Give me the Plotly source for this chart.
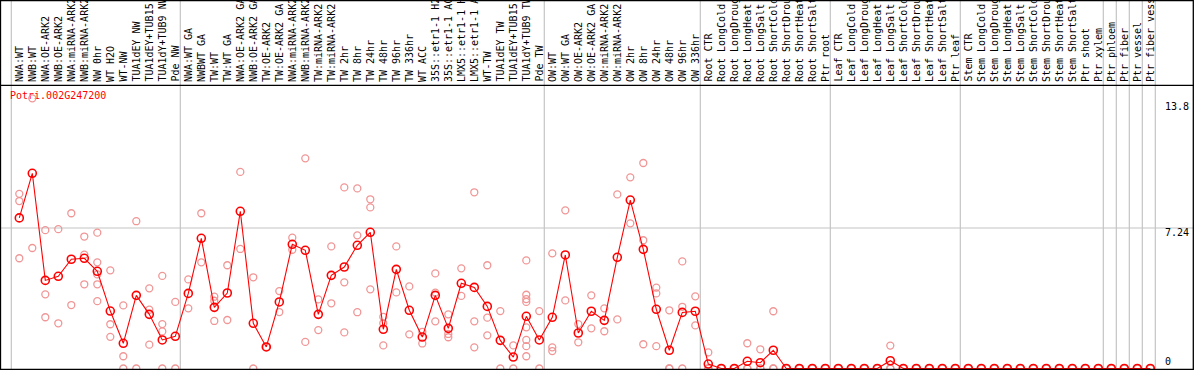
import plotly.graph_objects as go

W, H = 1194, 370

categories = [
    "NWA:WT", "NWB:WT", "NWA:OE-ARK2", "NWB:OE-ARK2", "NWA:miRNA-ARK2", "NWB:miRNA-ARK2",
    "NW 0hr", "WT H2O", "WT-NW", "TUA1dEY NW", "TUA1dEY+TUB15 NW", "TUA1dY+TUB9 NW", "Pde NW",
    "NWA:WT GA", "NWBWT GA", "TW:WT", "TW:WT GA", "NWA:OE-ARK2 GA", "NWB:OE-ARK2 GA",
    "TW:OE-ARK2", "TW:OE-ARK2 GA", "NWA:miRNA-ARK2", "NWB:miRNA-ARK2", "TW:miRNA-ARK2",
    "TW:miRNA-ARK2", "TW 2hr", "TW 8hr", "TW 24hr", "TW 48hr", "TW 96hr", "TW 336hr",
    "WT ACC", "35S::etr1-1 H2O", "35S::etr1-1 ACC", "LMX5::etr1-1 H2O", "LMX5::etr1-1 ACC",
    "WT-TW", "TUA1dEY TW", "TUA1dEY+TUB15 TW", "TUA1dY+TUB9 TW", "Pde TW",
    "OW:WT", "OW:WT GA", "OW:OE-ARK2", "OW:OE-ARK2 GA", "OW:miRNA-ARK2", "OW:miRNA-ARK2",
    "OW 2hr", "OW 8hr", "OW 24hr", "OW 48hr", "OW 96hr", "OW 336hr",
    "Root CTR", "Root LongCold", "Root LongDrought", "Root LongHeat", "Root LongSalt",
    "Root ShortCold", "Root ShortDrought", "Root ShortHeat", "Root ShortSalt", "Ptr root",
    "Leaf CTR", "Leaf LongCold", "Leaf LongDrought", "Leaf LongHeat", "Leaf LongSalt",
    "Leaf ShortCold", "Leaf ShortDrought", "Leaf ShortHeat", "Leaf ShortSalt", "Ptr leaf",
    "Stem CTR", "Stem LongCold", "Stem LongDrought", "Stem LongHeat", "Stem LongSalt",
    "Stem ShortCold", "Stem ShortDrought", "Stem ShortHeat", "Stem ShortSalt", "Ptr shoot",
    "Ptr xylem", "Ptr phloem", "Ptr fiber", "Ptr vessel", "Ptr fiber vessel",
]

mean_values = [
    7.76, 10.06, 4.54, 4.75, 5.63, 5.68, 5.01, 2.96, 1.30, 3.77, 2.79, 1.47, 1.66,
    3.87, 6.71, 3.15, 3.89, 8.10, 2.33, 1.11, 3.43, 6.40, 6.09, 2.79, 4.80, 5.23,
    6.35, 7.02, 2.02, 5.11, 3.00, 1.62, 3.77, 2.07, 4.39, 4.18, 3.20, 1.45, 0.59,
    2.69, 1.47, 2.64, 5.85, 1.83, 2.95, 2.48, 5.73, 8.68, 6.14, 3.05, 0.94, 2.89,
    2.95, 0.23, 0, 0, 0.37, 0.30, 0.94, 0, 0, 0, 0, 0, 0, 0, 0, 0.40, 0, 0, 0, 0,
    0, 0, 0, 0, 0, 0, 0, 0, 0, 0, 0, 0, 0, 0, 0, 0,
]

replicates = [
    [9.0, 8.63, 5.68], [13.92, 6.21], [7.13, 3.82, 2.64], [7.18, 2.33], [8.00, 3.27],
    [6.80, 5.87, 4.34], [7.0, 5.47, 4.85, 4.34, 3.47], [5.06, 2.28, 1.63], [3.25, 0.63, 0],
    [7.59, 0], [4.13, 3.03, 1.23], [4.77, 2.29, 1.91, 0], [3.43, 0], [4.59, 3.10],
    [8.0, 5.47], [3.70, 3.49, 2.45], [5.32, 2.50], [10.13, 6.16], [4.70, 0], [1.11],
    [3.99, 2.91], [6.74, 6.12], [10.83, 1.37], [3.56, 1.98], [6.29, 3.36],
    [9.33, 4.44, 1.86], [9.28, 6.86, 2.90], [8.72, 8.30, 4.08], [2.66, 2.33, 1.19],
    [6.29, 3.92], [4.23, 1.76], [1.89, 1.29], [4.90, 3.91, 2.43], [2.79, 1.78, 1.61],
    [5.16, 3.74], [9.08, 2.43, 1.09], [5.32, 2.62, 1.71], [2.96, 0], [1.19, 0],
    [5.57, 3.80, 3.58, 3.43, 2.12, 1.47, 1.15, 0.63], [2.96, 0], [5.93, 1.09, 0.90],
    [8.15, 3.51], [2.29, 1.35], [3.77, 2.07], [3.10, 1.92], [8.97, 2.53], [9.85, 7.48],
    [10.59, 6.61, 1.25], [4.17, 3.87, 1.15], [3.0, 0, 0], [5.52, 3.18, 0], [3.72, 2.22],
    [0.83, 0, 0], [0], [0], [1.30, 0, 0], [0.99, 0, 0], [2.95, 0, 0],
    [0], [0], [0], [0], [0], [0], [0], [0], [1.18, 0, 0],
    [0], [0], [0], [0], [0], [0], [0], [0], [0], [0], [0], [0], [0], [0], [0], [0],
    [0], [0], [0], [0],
]

group_starts = [0, 13, 41, 53, 63, 73, 84, 85, 86, 87, 88]
tick_values = [13.8, 7.24, 0]
tick_labels = ["13.8", "7.24", "0"]
gene_name = "Potri.002G247200"

FONT = "DejaVu Sans Mono"
RED = "#ff0000"
PINK = "rgb(240,150,150)"
GRID = "#c4c4c4"

# pixel geometry
x0_px, step_px = 19.3, 13.0
zero_px, unit_px = 368.5, 19.406
top_px = 85.5

xmin = -x0_px / step_px
xmax = xmin + W / step_px
ymin = (zero_px - H) / unit_px
ymax = (zero_px - top_px) / unit_px


def pyp(p):
    return (H - p) / H


def val_at_px(p):
    return (zero_px - p) / unit_px


idx = list(range(len(categories)))

fig = go.Figure()

# gene name (drawn below the points as in the reference)
fig.add_trace(go.Scatter(
    x=[(10 - x0_px) / step_px], y=[val_at_px(96.7)], mode="text", text=[gene_name],
    textposition="middle right", textfont=dict(family=FONT, size=10, color=RED),
    hoverinfo="skip", showlegend=False, cliponaxis=False,
))

rx, ry = [], []
for i, reps in enumerate(replicates):
    for v in reps:
        rx.append(i)
        ry.append(v)

fig.add_trace(go.Scatter(
    x=rx, y=ry, mode="markers",
    marker=dict(symbol="circle-open", size=7, color=PINK, line=dict(width=1.3, color=PINK)),
    showlegend=False,
))

fig.add_trace(go.Scatter(
    x=idx, y=mean_values, mode="lines+markers",
    line=dict(color=RED, width=1.1),
    marker=dict(symbol="circle-open", size=8, color=RED, line=dict(width=1.6, color=RED)),
    showlegend=False,
))

shapes = []
for g in group_starts:
    shapes.append(dict(type="line", xref="x", yref="paper", x0=g - 0.615, x1=g - 0.615,
                       y0=0, y1=1, line=dict(color=GRID, width=1.2), layer="below"))
shapes.append(dict(type="line", xref="paper", yref="y", x0=0, x1=1, y0=7.24, y1=7.24,
                   line=dict(color=GRID, width=1.2), layer="below"))
# frame
shapes.append(dict(type="line", xref="paper", yref="paper", x0=0, x1=1,
                   y0=pyp(85.3), y1=pyp(85.3), line=dict(color="black", width=1.3)))
shapes.append(dict(type="rect", xref="paper", yref="paper", x0=0.5 / W, x1=1193.3 / W,
                   y0=pyp(369.5), y1=pyp(0.5), line=dict(color="black", width=1.3)))

annotations = []
for i, c in enumerate(categories):
    annotations.append(dict(
        x=i, y=pyp(83.8), xref="x", yref="paper", text=c, showarrow=False,
        textangle=-90, xanchor="center", yanchor="bottom",
        font=dict(family=FONT, size=10, color="black"),
    ))

label_px = {"13.8": 106.7, "7.24": 232.7, "0": 361.7}
for v, t in zip(tick_values, tick_labels):
    annotations.append(dict(
        x=1163 / W, y=pyp(label_px[t]), xref="paper", yref="paper", text=t,
        showarrow=False, xanchor="left", yanchor="middle",
        font=dict(family=FONT, size=10, color="black"),
    ))

fig.update_layout(
    width=W, height=H, autosize=False,
    margin=dict(l=0, r=0, t=0, b=0, pad=0),
    paper_bgcolor="white", plot_bgcolor="white",
    xaxis=dict(range=[xmin, xmax], domain=[0, 1], visible=False, fixedrange=True),
    yaxis=dict(range=[ymin, ymax], domain=[0, pyp(top_px)], visible=False, fixedrange=True),
    shapes=shapes, annotations=annotations,
    font=dict(family=FONT),
)

fig.write_html(
    "out.html",
    config={"displayModeBar": False},
    post_script="document.body.style.margin='0px';document.body.style.overflow='hidden';",
)
